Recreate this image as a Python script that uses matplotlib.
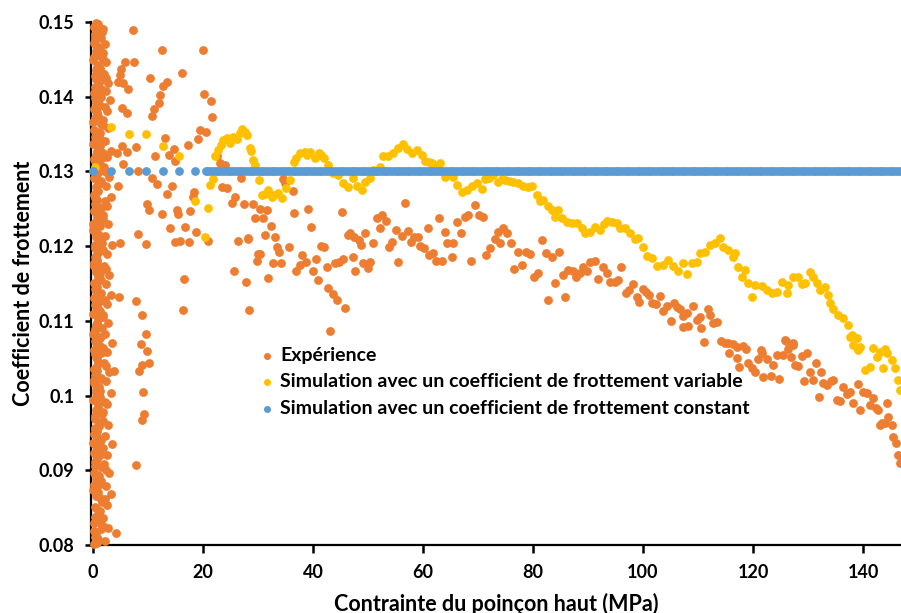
import matplotlib
matplotlib.use("Agg")
import matplotlib.pyplot as plt
from matplotlib.ticker import FuncFormatter

plt.rcParams['font.family'] = ['Lato', 'DejaVu Sans']
plt.rcParams['font.weight'] = 'bold'

# ---- values (x in MPa, y = friction coefficient) ----

# dense band of measurements right at the start of loading (x < 3.5 MPa)
exp_band = [
    (0.2, 0.0802), (0.5, 0.0815), (0.1, 0.0829), (0.4, 0.0838), (0.3, 0.0851), (0.6, 0.0866),
    (0.0, 0.0874), (0.5, 0.0889), (0.2, 0.0897), (0.4, 0.0911), (0.2, 0.0923), (0.5, 0.0932),
    (0.1, 0.0948), (0.4, 0.0957), (0.3, 0.0969), (0.6, 0.0981), (0.0, 0.0994), (0.5, 0.1003),
    (0.2, 0.1017), (0.4, 0.1028), (0.2, 0.1036), (0.5, 0.1052), (0.1, 0.1061), (0.4, 0.1073),
    (0.3, 0.1086), (0.6, 0.1094), (0.0, 0.1109), (0.5, 0.1118), (0.2, 0.1131), (0.4, 0.1142),
    (0.2, 0.1151), (0.5, 0.1166), (0.1, 0.1177), (0.4, 0.1185), (0.3, 0.1198), (0.6, 0.1212),
    (0.0, 0.1221), (0.5, 0.1233), (0.2, 0.1247), (0.4, 0.1256), (0.2, 0.1268), (0.5, 0.1279),
    (0.1, 0.1291), (0.4, 0.1303), (0.3, 0.1314), (0.6, 0.1322), (0.0, 0.1337), (0.5, 0.1349),
    (0.2, 0.1356), (0.4, 0.1371), (0.2, 0.1383), (0.5, 0.1392), (0.1, 0.1405), (0.4, 0.1413),
    (0.3, 0.1428), (0.6, 0.1436), (0.0, 0.1449), (0.5, 0.1461), (0.2, 0.1472), (0.4, 0.1484),
    (0.2, 0.1493), (0.6, 0.1499),
    (1.0, 0.0808), (1.4, 0.0821), (0.8, 0.0834), (1.2, 0.0845), (1.6, 0.0858), (0.9, 0.0871),
    (1.3, 0.0882), (1.1, 0.0893), (1.5, 0.0905), (0.7, 0.0917), (1.0, 0.0927), (1.4, 0.0941),
    (0.8, 0.0952), (1.2, 0.0963), (1.6, 0.0975), (0.9, 0.0987), (1.3, 0.0998), (1.1, 0.1011),
    (1.5, 0.1022), (0.7, 0.1033), (1.0, 0.1045), (1.4, 0.1057), (0.8, 0.1068), (1.2, 0.1079),
    (1.6, 0.1091), (0.9, 0.1102), (1.3, 0.1113), (1.1, 0.1125), (1.5, 0.1137), (0.7, 0.1146),
    (1.0, 0.1159), (1.4, 0.1171), (0.8, 0.1181), (1.2, 0.1193), (1.6, 0.1204), (0.9, 0.1216),
    (1.3, 0.1227), (1.1, 0.1239), (1.5, 0.1251), (0.7, 0.1262), (1.0, 0.1274), (1.4, 0.1285),
    (0.8, 0.1297), (1.2, 0.1309), (1.6, 0.1318), (0.9, 0.1331), (1.3, 0.1343), (1.1, 0.1353),
    (1.5, 0.1364), (0.7, 0.1377), (1.0, 0.1388), (1.4, 0.1399), (0.8, 0.1409), (1.2, 0.1421),
    (1.6, 0.1432), (0.9, 0.1443), (1.3, 0.1455), (1.1, 0.1467), (1.5, 0.1478), (0.7, 0.1489),
    (1.0, 0.1497),
    (2.1, 0.0806), (2.8, 0.0823), (1.9, 0.0836), (2.5, 0.0853), (3.2, 0.0868), (2.3, 0.0879),
    (2.9, 0.0896), (2.0, 0.0908), (2.6, 0.0921), (3.4, 0.0935), (2.1, 0.0946), (2.8, 0.0961),
    (1.9, 0.0978), (2.5, 0.0989), (3.2, 0.1004), (2.3, 0.1019), (2.9, 0.1031), (2.0, 0.1043),
    (2.6, 0.1058), (3.4, 0.1071), (2.1, 0.1083), (2.8, 0.1097), (1.9, 0.1108), (2.5, 0.1122),
    (3.2, 0.1134), (2.3, 0.1149), (2.9, 0.1162), (2.0, 0.1174), (2.6, 0.1189), (3.4, 0.1201),
    (2.1, 0.1213), (2.8, 0.1229), (1.9, 0.1242), (2.5, 0.1254), (3.2, 0.1266), (2.3, 0.1281),
    (2.9, 0.1293), (2.0, 0.1306), (2.6, 0.1319), (3.3, 0.1327), (2.1, 0.1341), (2.8, 0.1358),
    (1.9, 0.1369), (2.5, 0.1381), (3.1, 0.1395), (2.3, 0.1407), (2.7, 0.1419), (2.0, 0.1431),
    (2.4, 0.1446), (1.8, 0.1458), (2.2, 0.1471), (1.7, 0.1486),
    (0.3, 0.0811), (1.8, 0.0826), (0.9, 0.0842), (2.2, 0.0861), (0.5, 0.0877), (1.5, 0.0886),
    (2.4, 0.0901), (0.7, 0.0915), (1.9, 0.0930), (1.2, 0.0939), (0.3, 0.0955), (1.8, 0.0966),
    (0.9, 0.0984), (2.2, 0.0992), (0.5, 0.1008), (1.5, 0.1024), (2.4, 0.1039), (0.7, 0.1049),
    (1.9, 0.1064), (1.2, 0.1077), (0.3, 0.1089), (1.8, 0.1105), (0.9, 0.1116), (2.2, 0.1128),
    (0.5, 0.1140), (1.5, 0.1155), (2.4, 0.1169), (0.7, 0.1179), (1.9, 0.1195), (1.2, 0.1208),
    (0.3, 0.1219), (1.8, 0.1236), (0.9, 0.1244), (2.2, 0.1260), (0.5, 0.1271), (1.5, 0.1287),
    (2.4, 0.1299), (0.7, 0.1311), (1.9, 0.1325), (1.2, 0.1334), (0.3, 0.1346), (1.8, 0.1362),
    (0.9, 0.1374), (2.2, 0.1386), (0.5, 0.1401), (1.5, 0.1411), (2.4, 0.1425), (0.7, 0.1440),
    (1.9, 0.1451), (1.2, 0.1464), (0.3, 0.1476), (1.8, 0.1491),
    (0.8, 0.0803), (0.1, 0.0819), (1.1, 0.0831), (0.6, 0.0849), (1.3, 0.0863), (0.2, 0.0880),
    (0.9, 0.0894), (0.4, 0.0906), (1.2, 0.0920), (0.0, 0.0936), (0.7, 0.0944), (1.1, 0.0959),
    (0.3, 0.0973), (1.0, 0.0979), (0.6, 0.0996), (1.3, 0.1006), (0.1, 0.1021), (0.8, 0.1040),
    (0.4, 0.1055), (1.2, 0.1066), (0.0, 0.1082), (0.7, 0.1097), (1.1, 0.1107), (0.3, 0.1121),
    (1.0, 0.1135), (0.6, 0.1148), (1.3, 0.1163), (0.1, 0.1173), (0.8, 0.1189), (0.4, 0.1201),
    (1.2, 0.1214), (0.0, 0.1230), (0.7, 0.1240), (1.1, 0.1253), (0.3, 0.1264), (1.0, 0.1283),
    (0.6, 0.1295), (1.3, 0.1301), (0.1, 0.1317), (0.8, 0.1328), (0.4, 0.1340), (1.2, 0.1352),
    (0.0, 0.1366), (0.7, 0.1380), (1.1, 0.1390), (0.3, 0.1398), (1.0, 0.1416), (0.6, 0.1424),
    (1.3, 0.1438), (0.1, 0.1453), (0.8, 0.1466), (0.4, 0.1480), (1.2, 0.1492),
]

# remaining measured points
exp_points = [
    (7.3, 0.1489), (12.5, 0.1462), (20.0, 0.1462), (5.8, 0.1447), (7.4, 0.1447), (16.2, 0.1432),
    (5.1, 0.1437), (4.9, 0.1429), (10.4, 0.1425), (13.4, 0.1420), (4.6, 0.1420), (5.5, 0.1418),
    (12.8, 0.1414), (6.4, 0.1411), (12.2, 0.1402), (20.2, 0.1403), (12.0, 0.1392), (21.4, 0.1394),
    (5.2, 0.1385), (6.1, 0.1378), (11.1, 0.1383), (10.8, 0.1374), (21.7, 0.1373), (19.5, 0.1355),
    (20.5, 0.1353), (19.1, 0.1344), (13.1, 0.1345), (17.3, 0.1335), (7.8, 0.1333), (5.2, 0.1334),
    (6.2, 0.1326), (4.3, 0.1325), (14.8, 0.1330), (13.8, 0.1322), (11.3, 0.1320), (14.9, 0.1314),
    (5.5, 0.1310), (8.1, 0.1300), (10.7, 0.1291), (4.6, 0.1280), (11.6, 0.1283), (14.3, 0.1280),
    (13.4, 0.1270), (18.4, 0.1273), (18.1, 0.1266), (9.8, 0.1257), (10.2, 0.1249), (12.5, 0.1243),
    (15.2, 0.1248), (15.5, 0.1243), (17.6, 0.1247), (14.0, 0.1224), (16.8, 0.1225), (18.8, 0.1219),
    (8.2, 0.1216), (5.0, 0.1204), (9.6, 0.1203), (15.0, 0.1205), (15.8, 0.1207), (17.5, 0.1206),
    (21.0, 0.1207), (16.5, 0.1156), (4.7, 0.1132), (7.9, 0.1127), (16.3, 0.1114), (9.0, 0.1108),
    (9.6, 0.1083), (8.7, 0.1069), (9.9, 0.1060), (10.2, 0.1044), (8.9, 0.1041), (8.4, 0.1033),
    (3.9, 0.1033), (9.1, 0.1005), (9.3, 0.0975), (8.9, 0.0967), (7.9, 0.0907), (4.2, 0.0816),
    (22.5, 0.1320), (23.1, 0.1311), (23.4, 0.1279), (24.4, 0.1278), (24.0, 0.1309), (25.8, 0.1266),
    (25.3, 0.1258), (26.9, 0.1291), (27.5, 0.1256), (28.2, 0.1211), (29.1, 0.1256), (29.5, 0.1238),
    (30.4, 0.1250), (30.9, 0.1238), (31.6, 0.1248), (32.4, 0.1227), (31.3, 0.1215), (33.1, 0.1212),
    (33.5, 0.1199), (33.8, 0.1192), (30.4, 0.1190), (29.8, 0.1180), (32.7, 0.1177), (34.2, 0.1177),
    (31.8, 0.1157), (28.4, 0.1114), (27.8, 0.1152), (25.6, 0.1167), (26.4, 0.1207), (35.6, 0.1199),
    (36.5, 0.1244), (36.4, 0.1274), (34.5, 0.1290), (34.9, 0.1285), (36.9, 0.1167), (37.6, 0.1175),
    (38.0, 0.1188), (38.7, 0.1179), (39.1, 0.1250), (39.6, 0.1226), (40.0, 0.1167), (40.5, 0.1183),
    (40.9, 0.1155), (41.5, 0.1200), (42.0, 0.1199), (42.5, 0.1172), (42.7, 0.1144), (43.6, 0.1136),
    (44.4, 0.1128), (45.8, 0.1117), (43.1, 0.1086), (44.0, 0.1177), (44.7, 0.1179), (45.5, 0.1183),
    (45.3, 0.1246), (46.4, 0.1215), (46.7, 0.1218), (28.2, 0.1210), (30.0, 0.1189),
    (47.3, 0.1186), (47.6, 0.1167), (47.5, 0.1212), (48.4, 0.1208), (48.7, 0.1201), (49.1, 0.1177),
    (49.5, 0.1218), (50.0, 0.1171), (50.4, 0.1179), (50.9, 0.1204), (51.6, 0.1238), (52.5, 0.1242),
    (52.2, 0.1224), (53.3, 0.1234), (53.8, 0.1199), (54.4, 0.1206), (55.1, 0.1222), (55.5, 0.1179),
    (56.2, 0.1214), (56.7, 0.1258), (57.3, 0.1220), (57.8, 0.1206), (58.4, 0.1212), (59.1, 0.1212),
    (59.5, 0.1200), (60.2, 0.1197), (60.9, 0.1224), (61.1, 0.1188), (61.8, 0.1191), (62.4, 0.1180),
    (62.9, 0.1238), (63.5, 0.1180), (64.0, 0.1219), (64.4, 0.1204), (65.3, 0.1186), (65.5, 0.1204),
    (66.2, 0.1232), (66.9, 0.1218), (67.6, 0.1239), (68.2, 0.1242), (68.7, 0.1180), (69.5, 0.1255),
    (70.2, 0.1242), (70.9, 0.1239), (71.5, 0.1188), (72.2, 0.1197), (73.1, 0.1210), (73.6, 0.1219),
    (74.5, 0.1224), (75.3, 0.1218), (74.0, 0.1204), (76.0, 0.1204), (76.5, 0.1169), (77.3, 0.1192),
    (78.0, 0.1175), (78.7, 0.1192), (79.5, 0.1190), (80.2, 0.1159), (80.9, 0.1164), (81.6, 0.1208),
    (82.4, 0.1191), (82.7, 0.1128),
    (83.5, 0.1186), (84.0, 0.1151), (84.7, 0.1192), (85.5, 0.1161), (85.8, 0.1132), (86.4, 0.1168),
    (87.3, 0.1167), (87.8, 0.1159), (88.5, 0.1164), (89.1, 0.1172), (89.8, 0.1167), (90.4, 0.1179),
    (91.3, 0.1180), (91.8, 0.1156), (92.7, 0.1172), (93.5, 0.1164), (94.0, 0.1152), (94.9, 0.1152),
    (95.5, 0.1155), (96.0, 0.1172), (96.9, 0.1137), (97.5, 0.1141), (98.2, 0.1149), (98.9, 0.1132),
    (99.3, 0.1125), (100.0, 0.1143), (100.5, 0.1139), (101.1, 0.1135), (101.6, 0.1124), (102.4, 0.1123),
    (103.1, 0.1133), (103.6, 0.1113), (104.4, 0.1120), (105.1, 0.1100), (105.6, 0.1124), (106.2, 0.1119),
    (106.7, 0.1116), (107.3, 0.1092), (107.3, 0.1106), (108.0, 0.1110), (108.2, 0.1093), (109.1, 0.1120),
    (109.8, 0.1101), (110.4, 0.1105), (110.5, 0.1090), (111.1, 0.1072), (111.8, 0.1116), (112.2, 0.1108),
    (112.7, 0.1097), (113.5, 0.1098), (114.2, 0.1073), (114.9, 0.1070), (115.6, 0.1057), (116.4, 0.1069),
    (117.1, 0.1050), (117.5, 0.1038), (118.2, 0.1067), (118.7, 0.1062), (119.1, 0.1043), (119.8, 0.1037),
    (120.4, 0.1031), (120.9, 0.1049), (121.6, 0.1057), (121.8, 0.1025), (122.5, 0.1049), (123.3, 0.1026),
    (123.6, 0.1041), (124.4, 0.1054), (124.7, 0.1022), (125.5, 0.1054), (126.0, 0.1073), (126.4, 0.1063),
    (126.9, 0.1052), (127.3, 0.1070), (127.6, 0.1041), (128.2, 0.1040), (128.9, 0.1053), (129.3, 0.1019),
    (129.8, 0.1057), (130.4, 0.1032), (130.9, 0.1021), (131.5, 0.1044), (132.0, 0.0998), (132.4, 0.1032),
    (132.7, 0.1017), (133.5, 0.1014), (134.2, 0.1019), (134.5, 0.1021), (135.3, 0.0994), (135.8, 0.0993),
    (136.4, 0.1011), (137.1, 0.1002), (137.6, 0.1005), (138.2, 0.0990), (139.1, 0.1015), (139.5, 0.0981),
    (140.0, 0.1005), (140.7, 0.1003), (141.3, 0.0987), (141.8, 0.0997), (142.4, 0.0983), (142.7, 0.0981),
    (143.1, 0.0961), (143.5, 0.0963), (144.0, 0.0963), (144.4, 0.0990), (144.5, 0.0971), (145.3, 0.0961),
    (145.5, 0.0944), (146.0, 0.0936), (146.4, 0.0920), (146.7, 0.0910),
    (115.5, 0.1070), (117.1, 0.1065), (121.5, 0.1061), (125.8, 0.1074), (127.3, 0.1068),
]

# simulation, variable friction coefficient
var_points = [
    (0.3, 0.1306), (3.3, 0.1360), (6.5, 0.1350), (9.7, 0.1350), (12.7, 0.1334), (15.6, 0.1320),
    (18.5, 0.1260), (20.4, 0.1212), (20.9, 0.1251), (21.3, 0.1282), (21.8, 0.1290), (22.2, 0.1320),
    (22.8, 0.1329), (23.3, 0.1336), (23.7, 0.1342), (24.3, 0.1345), (24.9, 0.1338), (25.5, 0.1346),
    (26.1, 0.1344), (26.7, 0.1352), (27.1, 0.1357), (27.6, 0.1353), (28.0, 0.1349), (28.5, 0.1331),
    (28.8, 0.1328), (29.1, 0.1315), (29.5, 0.1309), (30.2, 0.1289), (30.7, 0.1268), (31.3, 0.1270),
    (31.8, 0.1275), (32.5, 0.1266), (33.0, 0.1268), (33.6, 0.1271), (34.4, 0.1264), (35.1, 0.1278),
    (35.8, 0.1289), (36.5, 0.1313), (37.0, 0.1318), (37.6, 0.1325), (38.5, 0.1326), (39.0, 0.1322),
    (39.5, 0.1326), (40.4, 0.1318), (41.1, 0.1325), (41.5, 0.1322), (42.0, 0.1318), (42.7, 0.1309),
    (43.6, 0.1298), (44.5, 0.1295), (45.5, 0.1285), (46.4, 0.1279), (47.3, 0.1291), (48.0, 0.1280),
    (48.9, 0.1275), (49.5, 0.1286), (50.4, 0.1291), (50.9, 0.1302), (51.5, 0.1300), (52.2, 0.1306),
    (52.7, 0.1320), (53.6, 0.1321), (54.5, 0.1325), (55.5, 0.1331), (56.4, 0.1337), (57.1, 0.1330),
    (58.0, 0.1325), (58.9, 0.1329), (59.8, 0.1322), (60.4, 0.1314), (61.0, 0.1312), (61.6, 0.1311),
    (62.4, 0.1305), (63.1, 0.1311), (64.0, 0.1293), (64.8, 0.1296), (65.5, 0.1293), (66.2, 0.1282),
    (67.1, 0.1272), (68.0, 0.1275), (68.9, 0.1280), (69.8, 0.1285), (70.7, 0.1276), (71.3, 0.1290),
    (72.0, 0.1291), (72.7, 0.1295), (73.6, 0.1286), (74.3, 0.1290), (74.9, 0.1289), (75.6, 0.1287),
    (76.4, 0.1286), (77.3, 0.1285), (78.2, 0.1280), (79.1, 0.1279), (79.8, 0.1280), (80.7, 0.1268),
    (81.3, 0.1260), (81.8, 0.1262), (82.7, 0.1254), (83.5, 0.1248), (84.0, 0.1239), (84.5, 0.1248),
    (85.3, 0.1238), (86.2, 0.1232), (87.1, 0.1231), (88.0, 0.1231), (88.9, 0.1224), (89.5, 0.1218),
    (90.4, 0.1219), (91.3, 0.1226), (92.2, 0.1222), (92.9, 0.1230), (93.5, 0.1234), (94.4, 0.1232),
    (95.3, 0.1231), (95.8, 0.1224), (96.7, 0.1224), (97.6, 0.1218), (98.5, 0.1210), (99.1, 0.1211),
    (100.0, 0.1199), (100.7, 0.1187), (101.6, 0.1184), (102.5, 0.1173), (103.6, 0.1175), (104.5, 0.1181),
    (105.5, 0.1173), (106.4, 0.1167), (107.3, 0.1177), (108.0, 0.1163), (108.9, 0.1177), (109.8, 0.1179),
    (110.4, 0.1191), (111.3, 0.1192), (112.2, 0.1202), (113.1, 0.1204), (114.0, 0.1211), (114.5, 0.1199),
    (115.5, 0.1195), (116.4, 0.1186), (116.7, 0.1191), (117.3, 0.1172), (118.0, 0.1159), (118.5, 0.1168),
    (119.1, 0.1151), (119.8, 0.1132), (120.4, 0.1148), (121.6, 0.1147), (122.5, 0.1141), (123.5, 0.1137),
    (124.4, 0.1139), (125.3, 0.1152), (126.2, 0.1137), (126.4, 0.1148), (127.3, 0.1159), (128.2, 0.1159),
    (128.9, 0.1150), (129.5, 0.1151), (130.4, 0.1166), (130.9, 0.1159), (131.6, 0.1151), (132.2, 0.1141),
    (133.1, 0.1145), (133.6, 0.1135), (134.0, 0.1124), (134.5, 0.1116), (135.5, 0.1108), (136.4, 0.1104),
    (137.3, 0.1095), (137.6, 0.1078), (138.0, 0.1081), (138.2, 0.1068), (138.9, 0.1077), (139.1, 0.1061),
    (139.5, 0.1065), (140.4, 0.1034), (141.3, 0.1038), (141.8, 0.1064), (142.5, 0.1052), (143.1, 0.1058),
    (143.6, 0.1037), (144.0, 0.1062), (144.4, 0.1057), (145.3, 0.1048), (145.8, 0.1037), (146.4, 0.1021),
    (146.7, 0.1007),
]

# simulation, constant friction coefficient (0.13)
cst_x = [0, 3.2, 6.5, 9.7, 12.7, 15.6, 18.5, 20.6,
         21, 21.5, 22, 22.5, 23, 23.5, 24, 24.5, 25, 25.5, 26, 26.5, 27, 27.5, 28, 28.5, 29, 29.5, 30,
         30.5, 31, 31.5, 32, 32.5, 33, 33.5, 34, 34.5, 35, 35.5, 36, 36.5, 37, 37.5, 38, 38.5, 39, 39.5,
         40, 40.5, 41, 41.5, 42, 42.5, 43, 43.5, 44, 44.5, 45, 45.5, 46, 46.5, 47, 47.5, 48, 48.5, 49,
         49.5, 50, 50.5, 51, 51.5, 52, 52.5, 53, 53.5, 54, 54.5, 55, 55.5, 56, 56.5, 57, 57.5, 58, 58.5,
         59, 59.5, 60, 60.5, 61, 61.5, 62, 62.5, 63, 63.5, 64, 64.5, 65, 65.5, 66, 66.5, 67, 67.5, 68,
         68.5, 69, 69.5, 70, 70.5, 71, 71.5, 72, 72.5, 73, 73.5, 74, 74.5, 75, 75.5, 76, 76.5, 77, 77.5,
         78, 78.5, 79, 79.5, 80, 80.5, 81, 81.5, 82, 82.5, 83, 83.5, 84, 84.5, 85, 85.5, 86, 86.5, 87,
         87.5, 88, 88.5, 89, 89.5, 90, 90.5, 91, 91.5, 92, 92.5, 93, 93.5, 94, 94.5, 95, 95.5, 96, 96.5,
         97, 97.5, 98, 98.5, 99, 99.5, 100, 100.5, 101, 101.5, 102, 102.5, 103, 103.5, 104, 104.5, 105,
         105.5, 106, 106.5, 107, 107.5, 108, 108.5, 109, 109.5, 110, 110.5, 111, 111.5, 112, 112.5, 113,
         113.5, 114, 114.5, 115, 115.5, 116, 116.5, 117, 117.5, 118, 118.5, 119, 119.5, 120, 120.5, 121,
         121.5, 122, 122.5, 123, 123.5, 124, 124.5, 125, 125.5, 126, 126.5, 127, 127.5, 128, 128.5, 129,
         129.5, 130, 130.5, 131, 131.5, 132, 132.5, 133, 133.5, 134, 134.5, 135, 135.5, 136, 136.5, 137,
         137.5, 138, 138.5, 139, 139.5, 140, 140.5, 141, 141.5, 142, 142.5, 143, 143.5, 144, 144.5, 145,
         145.5, 146, 146.5, 147]
cst_y = [0.13] * len(cst_x)

labels = ['Expérience',
          'Simulation avec un coefficient de frottement variable',
          'Simulation avec un coefficient de frottement constant']
colors = ['#ED7D31', '#FFC000', '#5B9BD5']

x_ticks = [0, 20, 40, 60, 80, 100, 120, 140]
y_ticks = [0.08, 0.09, 0.10, 0.11, 0.12, 0.13, 0.14, 0.15]

exp_x, exp_y = zip(*(exp_band + exp_points))
var_x, var_y = zip(*var_points)

fig = plt.figure(figsize=(9.01, 6.13), dpi=100)
ax = fig.add_axes([0.101, 0.1109, 0.899, 0.8532])

msize = 40
ax.scatter(exp_x, exp_y, s=msize, color=colors[0], lw=0, label=labels[0], zorder=3, clip_on=False)
ax.scatter(var_x, var_y, s=msize, color=colors[1], lw=0, label=labels[1], zorder=4, clip_on=False)
ax.scatter(cst_x, cst_y, s=msize, color=colors[2], lw=0, label=labels[2], zorder=5, clip_on=False)

ax.set_xlim(-0.36, 146.9)
ax.set_ylim(0.08, 0.15)
ax.set_xticks(x_ticks)
ax.set_yticks(y_ticks)
ax.yaxis.set_major_formatter(FuncFormatter(lambda v, p: f"{v:g}"))

for side in ['top', 'right']:
    ax.spines[side].set_visible(False)
for side in ['left', 'bottom']:
    ax.spines[side].set_linewidth(1.6)
    ax.spines[side].set_color('black')

ax.tick_params(axis='x', direction='out', length=6, width=1.8, pad=8, labelsize=13)
ax.tick_params(axis='y', direction='out', length=4, width=1.8, pad=8, labelsize=13)
for lab in ax.get_xticklabels() + ax.get_yticklabels():
    lab.set_fontweight('bold')

ax.set_xlabel('Contrainte du poinçon haut (MPa)', fontsize=15.5, fontweight='bold', labelpad=8)
ax.set_ylabel('Coefficient de frottement', fontsize=15.5, fontweight='bold', labelpad=3)

leg = ax.legend(loc='upper left', bbox_to_anchor=(251 / 901, 1 - 337 / 613),
                bbox_transform=fig.transFigure, frameon=False, fontsize=14,
                handlelength=0.6, handletextpad=0.4, labelspacing=0.5, borderpad=0,
                markerscale=0.8)
for t in leg.get_texts():
    t.set_fontweight('bold')

fig.savefig('out.png', dpi=100)
